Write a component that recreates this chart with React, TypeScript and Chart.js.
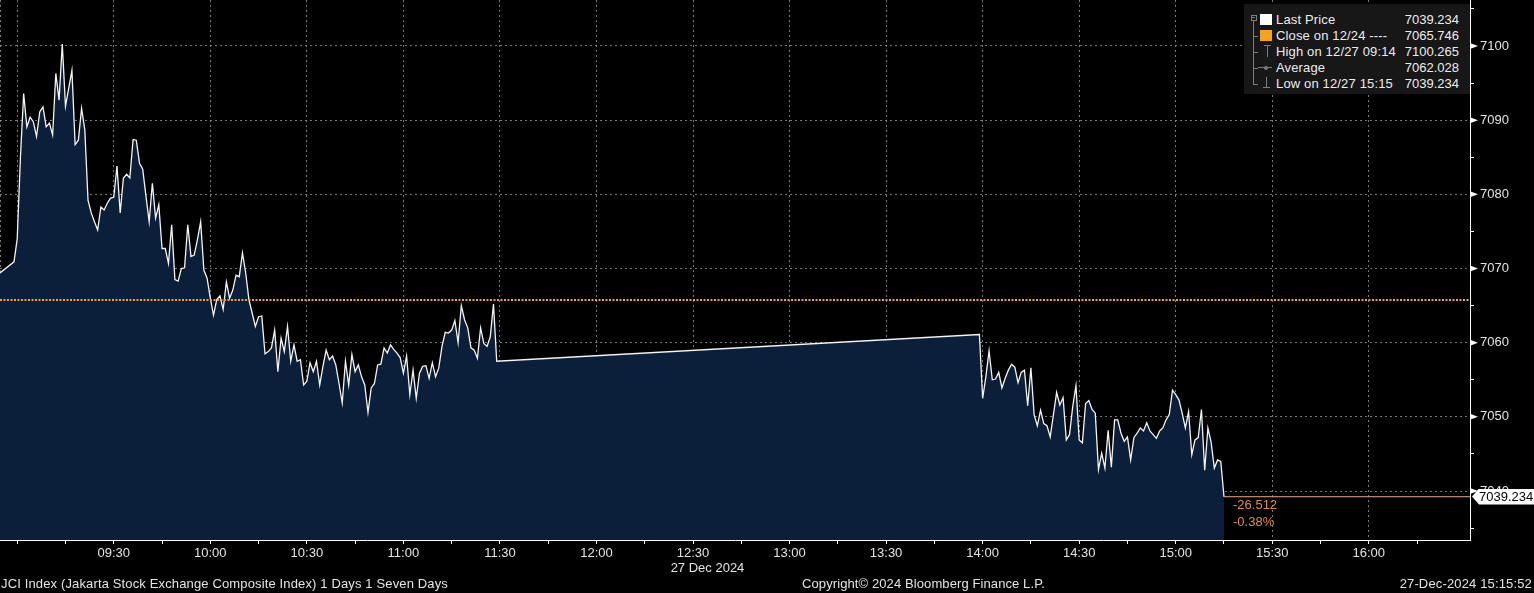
import React, { useEffect, useRef } from 'react';
import { Chart, registerables } from 'chart.js';

Chart.register(...registerables);

const FONT = "'Liberation Sans', Arial, sans-serif";

// ---- data (JCI Index, 27 Dec 2024, 1-minute prints) ----
const PREOPEN_TIMES = ['08:54', '08:59'];
const PREOPEN_PRICES = [7069.2, 7070.9];

const MORNING_START = '09:00';
const MORNING_PRICES = [
  7074.0, 7085.0, 7093.6, 7089.1, 7090.4, 7089.8, 7087.8, 7091.1, 7091.8, 7089.1,
  7089.6, 7088.0, 7096.3, 7092.7, 7100.265, 7091.9, 7094.3, 7096.7, 7086.7, 7087.3,
  7091.6, 7088.7, 7079.2, 7077.5, 7076.3, 7075.2, 7078.3, 7077.9, 7078.8, 7079.5,
  7079.6, 7083.8, 7077.5, 7082.2, 7082.7, 7082.2, 7087.4, 7087.3, 7084.2, 7083.4,
  7079.8, 7076.3, 7081.5, 7076.8, 7078.6, 7072.7, 7072.7, 7070.7, 7075.9, 7068.5,
  7068.3, 7070.0, 7070.1, 7075.9, 7071.6, 7071.8, 7073.9, 7076.3, 7069.8, 7068.7,
  7066.0, 7063.7, 7065.8, 7066.3, 7064.5, 7068.2, 7066.0, 7067.1, 7069.1, 7068.9,
  7072.1, 7069.4, 7065.8, 7064.0, 7062.2, 7063.5, 7063.6, 7058.5, 7058.8, 7059.3,
  7061.7, 7056.1, 7060.6, 7058.8, 7062.2, 7057.5, 7059.7, 7057.5, 7057.7, 7054.3,
  7054.8, 7057.3, 7056.1, 7057.5, 7054.3, 7056.8, 7059.0, 7057.7, 7058.2, 7057.0,
  7054.5, 7051.9, 7057.5, 7054.3, 7058.4, 7056.1, 7057.0, 7055.4, 7054.3, 7050.6,
  7053.9, 7054.5, 7057.0, 7057.1, 7059.3, 7058.6, 7059.7, 7059.1, 7058.6, 7058.0,
  7055.9, 7058.2, 7053.0, 7056.3, 7052.5, 7055.9, 7056.8, 7056.9, 7055.2, 7057.3,
  7055.4, 7056.6, 7059.5, 7061.4, 7061.3, 7061.7, 7063.0, 7060.0, 7065.0, 7063.1,
  7062.0, 7059.3, 7059.0, 7057.9, 7062.0, 7059.9, 7059.5, 7060.8, 7065.2, 7057.5,
];

const AFTERNOON_START = '13:59';
const AFTERNOON_PRICES = [
  7061.1, 7052.5, 7055.4, 7058.9, 7055.0, 7055.1, 7056.0, 7053.9, 7055.2, 7056.3,
  7057.1, 7056.7, 7054.6, 7056.0, 7056.3, 7051.5, 7056.6, 7050.3, 7048.8, 7050.9,
  7049.1, 7048.8, 7047.3, 7050.3, 7053.3, 7051.6, 7052.6, 7046.9, 7047.6, 7051.4,
  7054.2, 7046.9, 7046.5, 7051.8, 7052.2, 7051.0, 7050.5, 7042.9, 7045.1, 7043.1,
  7048.2, 7043.2, 7049.6, 7049.6, 7047.8, 7046.7, 7047.3, 7044.2, 7047.2, 7047.8,
  7048.5, 7048.1, 7049.2, 7048.1, 7047.6, 7047.1, 7048.1, 7048.5, 7049.6, 7050.3,
  7053.6, 7053.0, 7052.3, 7050.5, 7048.5, 7050.7, 7044.9, 7046.9, 7047.2, 7051.0,
  7042.8, 7048.5, 7046.6, 7043.1, 7044.2, 7044.0, 7039.234,
];

const PREV_CLOSE = 7065.746;
const LAST_PRICE = 7039.234;
const HIGH_PRICE = 7100.265;
const AVERAGE_PRICE = 7062.028;
const LOW_PRICE = 7039.234;
const NET_CHANGE = '-26.512';
const PCT_CHANGE = '-0.38%';

const LEGEND_LABELS = ['Last Price', 'Close on 12/24 ----', 'High on 12/27 09:14', 'Average', 'Low on 12/27 15:15'];
const LEGEND_VALUES = [LAST_PRICE, PREV_CLOSE, HIGH_PRICE, AVERAGE_PRICE, LOW_PRICE];

const X_RANGE = ['08:54:39', '16:31:27'];
const X_TICK_TIMES = [
  '09:00', '09:15', '09:30', '09:45', '10:00', '10:15', '10:30', '10:45', '11:00', '11:15',
  '11:30', '11:45', '12:00', '12:15', '12:30', '12:45', '13:00', '13:15', '13:30', '13:45',
  '14:00', '14:15', '14:30', '14:45', '15:00', '15:15', '15:30', '15:45', '16:00', '16:15',
];
const X_LABEL_TIMES = [
  '09:30', '10:00', '10:30', '11:00', '11:30', '12:00', '12:30', '13:00', '13:30', '14:00',
  '14:30', '15:00', '15:30', '16:00',
];
const X_GRID_TIMES = ['09:00', ...X_LABEL_TIMES];
const DATE_LABEL = '27 Dec 2024';

const Y_RANGE = [7033.4, 7106.2];
const Y_TICKS = [7035, 7040, 7045, 7050, 7055, 7060, 7065, 7070, 7075, 7080, 7085, 7090, 7095, 7100, 7105];
const Y_LABELS = [7040, 7050, 7060, 7070, 7080, 7090, 7100];

const FOOTER_LEFT = 'JCI Index (Jakarta Stock Exchange Composite Index) 1 Days 1 Seven Days';
const FOOTER_CENTER = 'Copyright\u00a9 2024 Bloomberg Finance L.P.';
const FOOTER_RIGHT = '27-Dec-2024 15:15:52';

// ---- helpers ----
const toMin = (t: string) => {
  const [h, m, s] = t.split(':').map(Number);
  return h * 60 + m + (s || 0) / 60 - 540;
};
const fmtTime = (v: number) => {
  const t = Math.round(v) + 540;
  const h = Math.floor(t / 60);
  const m = t % 60;
  return `${String(h).padStart(2, '0')}:${String(m).padStart(2, '0')}`;
};

const GRID = 'rgba(150,150,150,0.8)';
const TEXT = '#e4e4e4';

const axisMarkers = {
  id: 'axisMarkers',
  afterDraw(chart: any) {
    const { ctx, chartArea, scales } = chart;
    ctx.save();
    ctx.fillStyle = '#ffffff';
    Y_LABELS.forEach((v) => {
      const py = scales.y.getPixelForValue(v);
      ctx.beginPath();
      ctx.moveTo(chartArea.right, py - 3);
      ctx.lineTo(chartArea.right + 8, py);
      ctx.lineTo(chartArea.right, py + 3);
      ctx.closePath();
      ctx.fill();
    });
    ctx.restore();
  },
};

function Txt(props: { x: number; cy: number; text: string; color?: string; size?: number; align?: 'left' | 'right' | 'center'; w?: number; ls?: number }) {
  const { x, cy, text, color = TEXT, size = 13, align = 'left', w = 0, ls = 0 } = props;
  const style: React.CSSProperties = {
    position: 'absolute',
    top: cy - 8,
    height: 16,
    lineHeight: '16px',
    fontSize: size,
    color,
    whiteSpace: 'pre',
    letterSpacing: ls,
  };
  if (align === 'left') style.left = x;
  else if (align === 'right') { style.left = x - w; style.width = w; style.textAlign = 'right'; }
  else { style.left = x - w / 2; style.width = w; style.textAlign = 'center'; }
  return <div style={style}>{text}</div>;
}

const box = (left: number, top: number, width: number, height: number, bg: string, extra: React.CSSProperties = {}) => (
  <div style={{ position: 'absolute', left, top, width, height, background: bg, ...extra }} />
);

export default function App() {
  const ref = useRef<HTMLCanvasElement>(null);

  useEffect(() => {
    const xMin = toMin(X_RANGE[0]);
    const xMax = toMin(X_RANGE[1]);
    const priceData = [
      ...PREOPEN_TIMES.map((t, i) => ({ x: toMin(t), y: PREOPEN_PRICES[i] })),
      ...MORNING_PRICES.map((p, i) => ({ x: toMin(MORNING_START) + i, y: p })),
      ...AFTERNOON_PRICES.map((p, i) => ({ x: toMin(AFTERNOON_START) + i, y: p })),
    ];
    const lastX = priceData[priceData.length - 1].x;
    const labelSet = new Set(X_LABEL_TIMES.map(toMin));
    const gridSet = new Set(X_GRID_TIMES.map(toMin));
    const yLabelSet = new Set(Y_LABELS);

    const chart = new Chart(ref.current as HTMLCanvasElement, {
      type: 'line',
      data: {
        datasets: [
          {
            data: [{ x: xMin, y: PREV_CLOSE }, { x: xMax, y: PREV_CLOSE }],
            borderColor: '#f0a23c',
            borderWidth: 2,
            borderDash: [2, 1.5],
            pointRadius: 0,
            fill: false,
            order: 0,
          },
          {
            data: [{ x: lastX, y: LAST_PRICE }, { x: xMax, y: LAST_PRICE }],
            borderColor: '#eaa98c',
            borderWidth: 1,
            pointRadius: 0,
            fill: false,
            order: 1,
          },
          {
            data: priceData,
            borderColor: '#f4f4f4',
            borderWidth: 1.3,
            pointRadius: 0,
            tension: 0,
            fill: 'start',
            backgroundColor: '#0b1f3b',
            order: 2,
          },
        ],
      },
      options: {
        animation: false,
        responsive: false,
        maintainAspectRatio: false,
        layout: { padding: 0 },
        plugins: { legend: { display: false }, tooltip: { enabled: false } },
        scales: {
          x: {
            type: 'linear',
            position: 'bottom',
            min: xMin,
            max: xMax,
            z: 1,
            afterBuildTicks: (s: any) => {
              s.ticks = [xMin, ...X_TICK_TIMES.map(toMin)].map((v) => ({ value: v }));
            },
            afterFit: (s: any) => {
              s.height = 53;
              s.paddingLeft = 0;
              s.paddingRight = 0;
            },
            grid: {
              color: (c: any) => (c.tick && (gridSet.has(c.tick.value) || c.tick.value === xMin) ? GRID : 'rgba(0,0,0,0)'),
              tickColor: (c: any) => (c.tick && c.tick.value !== xMin ? '#ffffff' : 'rgba(0,0,0,0)'),
              tickLength: 4,
              lineWidth: 1,
            },
            border: { display: true, color: '#ffffff', width: 1, dash: [2, 3] },
            ticks: {
              autoSkip: false,
              maxRotation: 0,
              minRotation: 0,
              color: TEXT,
              padding: 2,
              font: { family: FONT, size: 13 },
              callback: (v: any) => (labelSet.has(Number(v)) ? fmtTime(Number(v)) : ''),
            },
          },
          y: {
            type: 'linear',
            position: 'right',
            min: Y_RANGE[0],
            max: Y_RANGE[1],
            z: 1,
            afterBuildTicks: (s: any) => {
              s.ticks = Y_TICKS.map((v) => ({ value: v }));
            },
            afterFit: (s: any) => {
              s.width = 64;
              s.paddingTop = 0;
              s.paddingBottom = 0;
            },
            grid: {
              color: (c: any) => (c.tick && yLabelSet.has(c.tick.value) ? GRID : 'rgba(0,0,0,0)'),
              tickColor: (c: any) => (c.tick && !yLabelSet.has(c.tick.value) ? '#ffffff' : 'rgba(0,0,0,0)'),
              tickLength: 4,
              lineWidth: 1,
            },
            border: { display: true, color: '#ffffff', width: 1, dash: [2, 3] },
            ticks: {
              autoSkip: false,
              color: TEXT,
              padding: 6,
              font: { family: FONT, size: 13 },
              callback: (v: any) => (yLabelSet.has(Number(v)) ? String(v) : ''),
            },
          },
        },
      } as any,
      plugins: [axisMarkers],
    });
    return () => chart.destroy();
  }, []);

  const rowCy = (i: number) => 19.5 + 16 * i;
  const iconGray = '#7c7c7c';

  return (
    <div style={{ position: 'fixed', left: 0, top: 0, width: 1534, height: 593, background: '#000', overflow: 'hidden', fontFamily: FONT }}>
      <canvas ref={ref} width={1534} height={593} style={{ position: 'absolute', left: 0, top: 0, width: 1534, height: 593 }} />

      {/* legend */}
      {box(1244, 4, 226, 90, '#171717')}
      {box(1250.5, 14.5, 6, 6, 'transparent', { border: `1px solid ${iconGray}`, boxSizing: 'border-box' })}
      {box(1252, 17, 3, 1, iconGray)}
      {box(1253, 20.5, 1, 63, iconGray)}
      {[1, 2, 3, 4].map((i) => <React.Fragment key={i}>{box(1253, rowCy(i), 5, 1, iconGray)}</React.Fragment>)}
      {box(1260, 14, 12, 11, '#ffffff')}
      {box(1260, 30, 12, 11, '#f7a11e')}
      {box(1264, 45, 7, 1, iconGray)}
      {box(1267, 45, 1, 12, iconGray)}
      {box(1258, 67, 14, 1, iconGray)}
      {box(1264, 65.5, 4, 4, iconGray, { borderRadius: 2 })}
      {box(1266, 77, 1, 10, iconGray)}
      {box(1263, 87, 7, 1, iconGray)}
      {LEGEND_LABELS.map((t, i) => (
        <React.Fragment key={t}>
          <Txt x={1276} cy={rowCy(i)} text={t} color="#ececec" size={13} ls={0.15} />
          <Txt x={1459} cy={rowCy(i)} text={LEGEND_VALUES[i].toFixed(3)} color="#ececec" align="right" w={80} />
        </React.Fragment>
      ))}

      {/* last price tag */}
      <div
        style={{
          position: 'absolute', left: 1472, top: 488.5, width: 62, height: 16, background: '#ffffff',
          clipPath: 'polygon(0 50%, 7px 0, 100% 0, 100% 100%, 7px 100%)',
        }}
      />
      <Txt x={1479} cy={496.5} text={LAST_PRICE.toFixed(3)} color="#000000" />

      {/* change labels */}
      <Txt x={1233} cy={505} text={NET_CHANGE} color="#e58c3c" />
      <Txt x={1233} cy={521.5} text={PCT_CHANGE} color="#e58c3c" />

      {/* date under axis */}
      <Txt x={707.5} cy={567.5} text={DATE_LABEL} align="center" w={120} />

      {/* footer */}
      <Txt x={1} cy={583.5} text={FOOTER_LEFT} ls={0.14} />
      <Txt x={802} cy={583.5} text={FOOTER_CENTER} ls={0.1} />
      <Txt x={1532} cy={583.5} text={FOOTER_RIGHT} align="right" w={200} ls={0.15} />
    </div>
  );
}
